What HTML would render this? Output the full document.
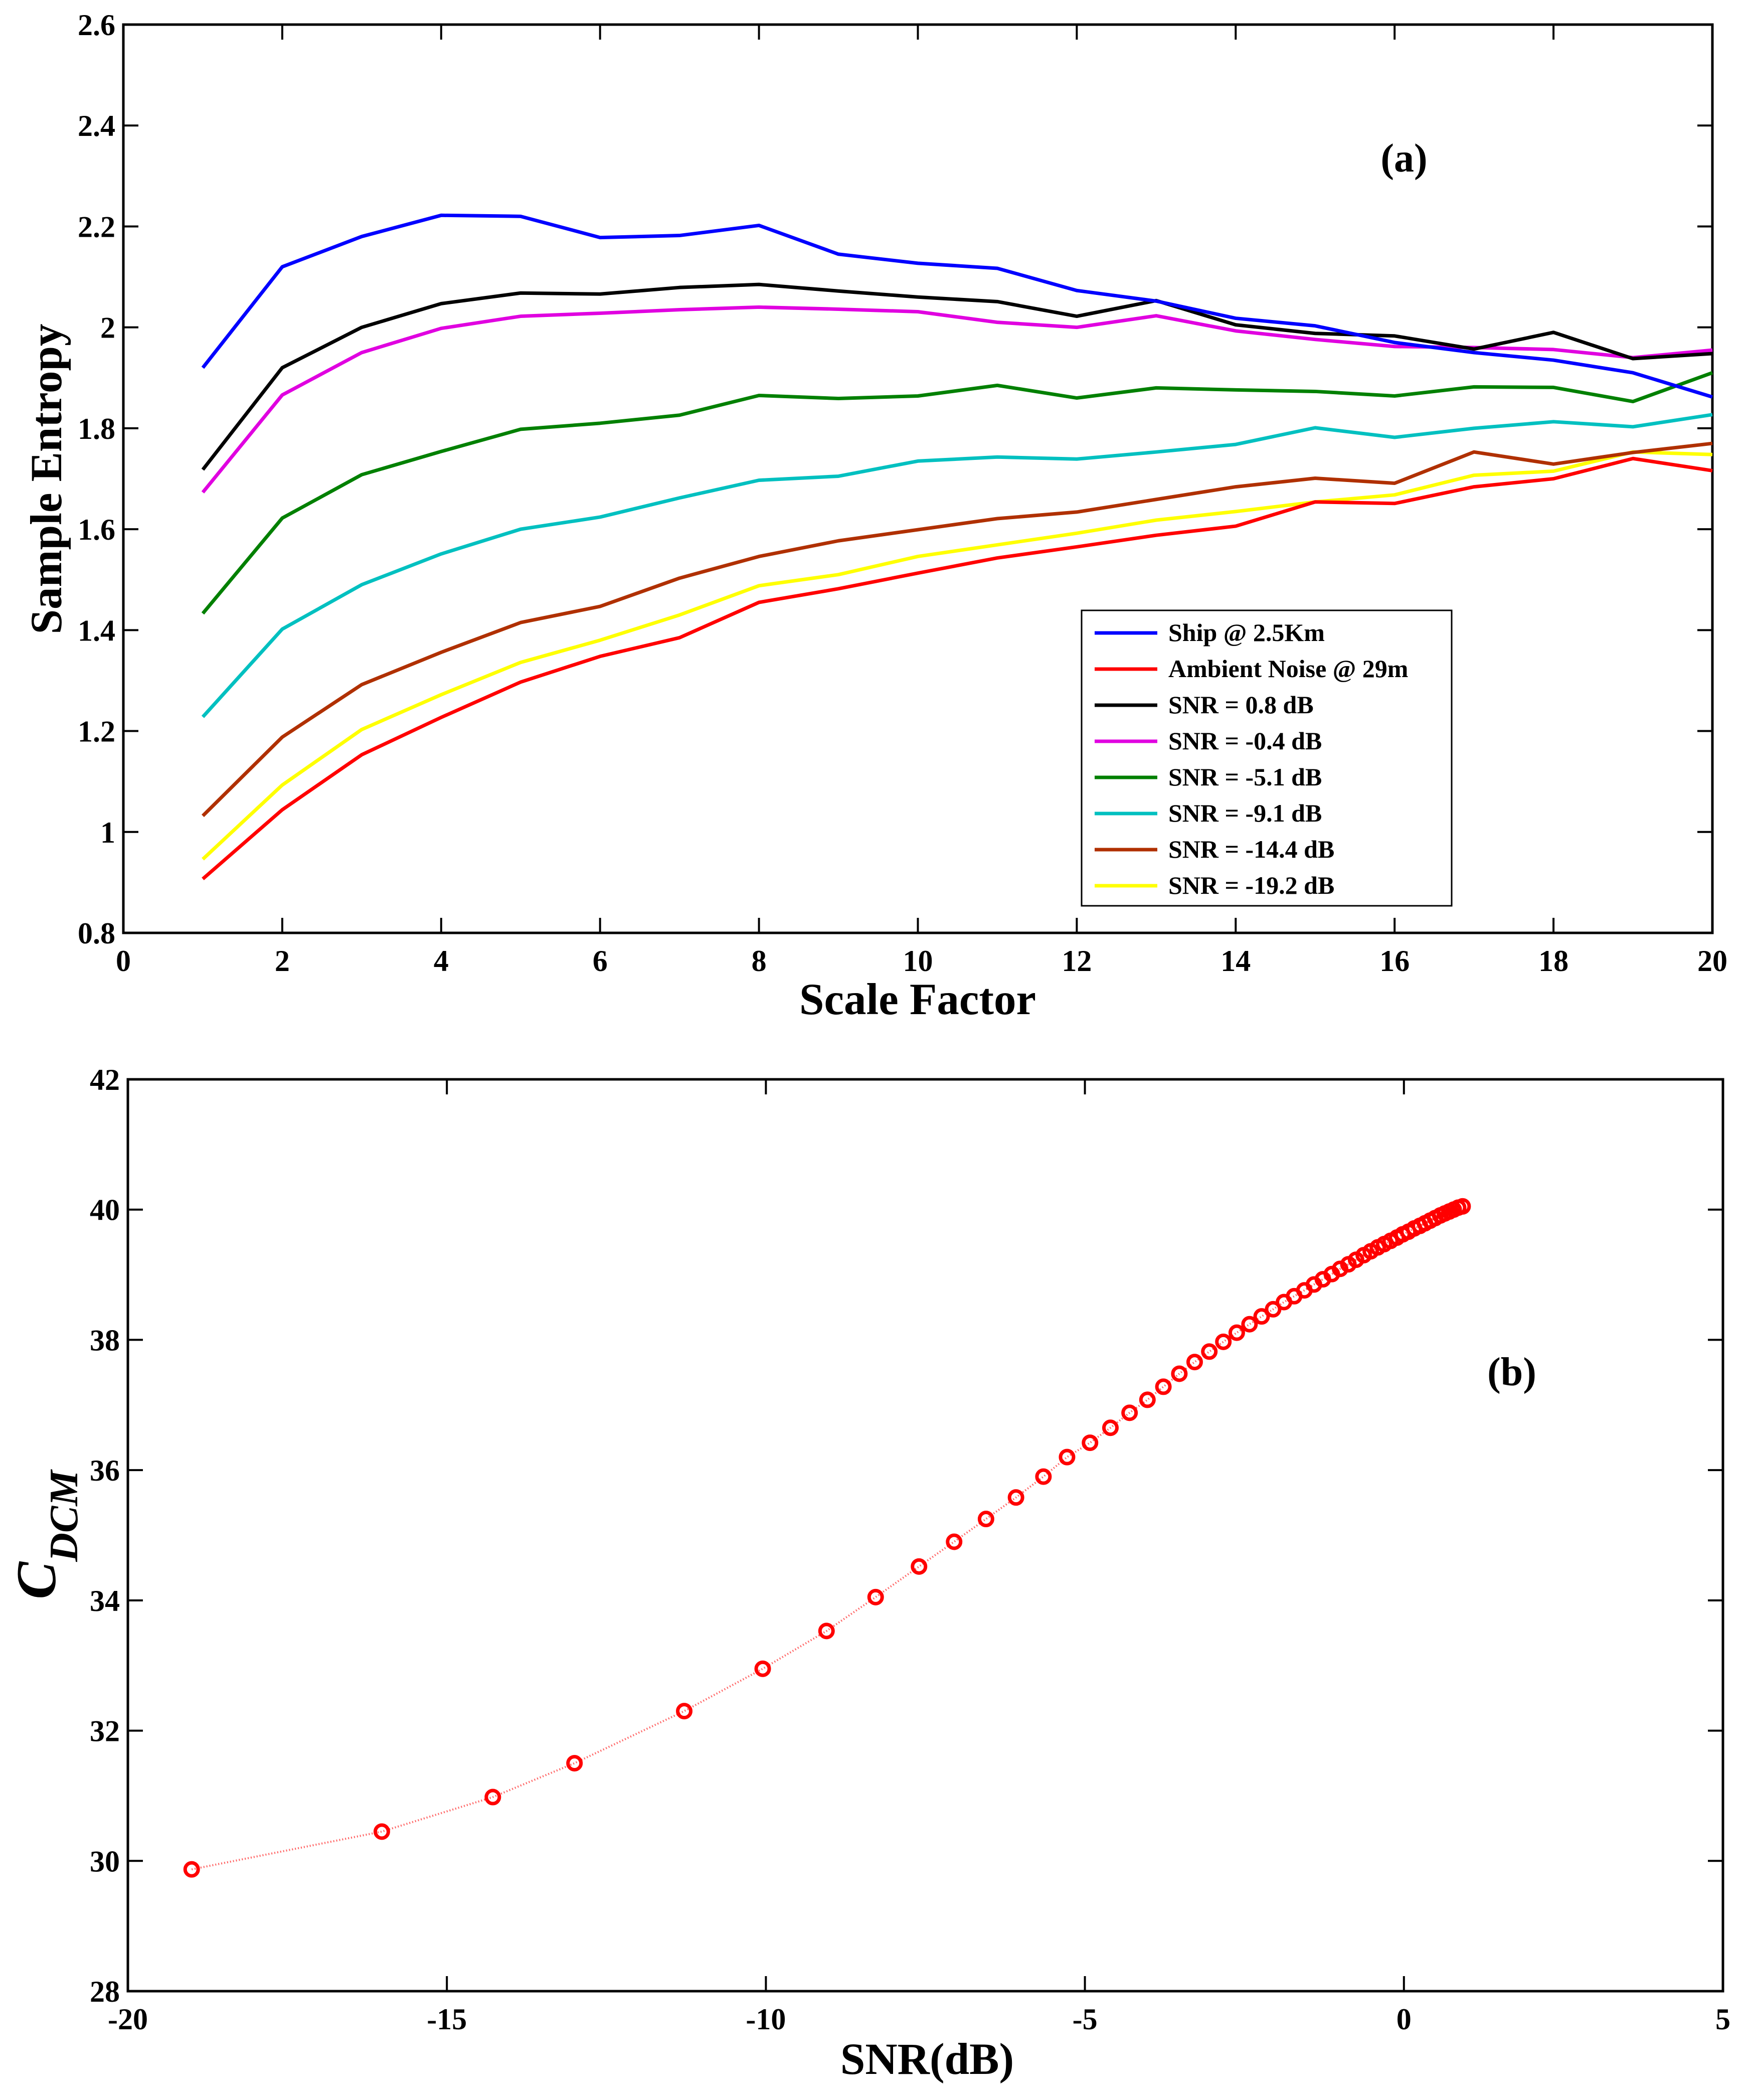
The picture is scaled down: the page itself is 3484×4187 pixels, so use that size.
<!DOCTYPE html>
<html><head><meta charset="utf-8"><style>
html,body{margin:0;padding:0;background:#fff}
svg text{font-family:"Liberation Serif",serif;font-weight:bold;fill:#000}
</style></head><body>
<svg id="chart" width="3484" height="4182" viewBox="0 0 3484 4182" xmlns="http://www.w3.org/2000/svg">
<g id="topPlot"></g>
<g id="botPlot"></g>
</svg>
<script>
const scaleFactors=[1,2,3,4,5,6,7,8,9,10,11,12,13,14,15,16,17,18,19,20];
const seriesNames=["Ship @ 2.5Km","Ambient Noise @ 29m","SNR = 0.8 dB","SNR = -0.4 dB","SNR = -5.1 dB","SNR = -9.1 dB","SNR = -14.4 dB","SNR = -19.2 dB"];
const seriesColors=["#0000ff","#ff0000","#000000","#e000e0","#008000","#00c0c0","#b03000","#ffff00"];
const shipVals=[1.92,2.12,2.18,2.222,2.22,2.178,2.182,2.202,2.145,2.127,2.117,2.073,2.052,2.018,2.003,1.970,1.950,1.935,1.910,1.862];
const noiseVals=[0.907,1.044,1.153,1.227,1.297,1.348,1.385,1.455,1.482,1.513,1.543,1.565,1.588,1.606,1.654,1.651,1.684,1.700,1.740,1.716];
const snr08Vals=[1.718,1.920,2.000,2.047,2.068,2.066,2.079,2.085,2.072,2.060,2.051,2.022,2.053,2.005,1.988,1.983,1.957,1.990,1.938,1.948];
const snrm04Vals=[1.673,1.866,1.950,1.998,2.022,2.028,2.035,2.040,2.036,2.031,2.010,2.000,2.023,1.993,1.976,1.962,1.960,1.956,1.940,1.955];
const snrm51Vals=[1.433,1.622,1.708,1.754,1.798,1.810,1.826,1.865,1.859,1.864,1.885,1.860,1.880,1.876,1.873,1.864,1.882,1.881,1.853,1.910];
const snrm91Vals=[1.228,1.402,1.490,1.551,1.600,1.624,1.662,1.697,1.705,1.735,1.743,1.739,1.753,1.768,1.801,1.782,1.800,1.813,1.803,1.827];
const snrm144Vals=[1.032,1.188,1.292,1.356,1.415,1.447,1.503,1.546,1.577,1.599,1.621,1.634,1.659,1.684,1.701,1.691,1.753,1.729,1.752,1.770];
const snrm192Vals=[0.946,1.093,1.203,1.272,1.336,1.380,1.430,1.488,1.510,1.546,1.569,1.592,1.618,1.635,1.654,1.668,1.707,1.715,1.753,1.748];
const topXTicks=[0,2,4,6,8,10,12,14,16,18,20];
const topYTicks=[0.8,1,1.2,1.4,1.6,1.8,2,2.2,2.4,2.6];
const topYLabels=["0.8","1","1.2","1.4","1.6","1.8","2","2.2","2.4","2.6"];
const snrX=[-19,-16.02,-14.28,-13,-11.28,-10.05,-9.05,-8.28,-7.6,-7.05,-6.55,-6.08,-5.65,-5.28,-4.92,-4.6,-4.3,-4.02,-3.77,-3.52,-3.28,-3.05,-2.83,-2.62,-2.42,-2.23,-2.05,-1.88,-1.72,-1.56,-1.41,-1.27,-1.13,-1.0,-0.87,-0.75,-0.63,-0.52,-0.41,-0.31,-0.21,-0.11,-0.02,0.07,0.16,0.25,0.33,0.41,0.49,0.57,0.64,0.71,0.78,0.85,0.92];
const cdcmY=[29.87,30.45,30.98,31.5,32.3,32.95,33.53,34.05,34.52,34.9,35.25,35.58,35.9,36.2,36.42,36.65,36.88,37.08,37.28,37.48,37.66,37.82,37.97,38.11,38.24,38.36,38.47,38.58,38.67,38.76,38.85,38.93,39.01,39.09,39.16,39.23,39.30,39.36,39.42,39.47,39.52,39.57,39.62,39.66,39.71,39.75,39.79,39.83,39.87,39.91,39.94,39.97,40.0,40.03,40.05];
const botXTicks=[-20,-15,-10,-5,0,5];
const botYTicks=[28,30,32,34,36,38,40,42];

const NS="http://www.w3.org/2000/svg";
function mk(parent,tag,attrs,text){const e=document.createElementNS(NS,tag);for(const k in attrs)e.setAttribute(k,attrs[k]);if(text!==undefined)e.textContent=text;parent.appendChild(e);return e;}

// ---- Top plot ----
const T={l:246,r:3415,t:49,b:1860,x0:0,x1:20,y0:0.8,y1:2.6};
const tx=v=>T.l+(v-T.x0)/(T.x1-T.x0)*(T.r-T.l);
const ty=v=>T.b-(v-T.y0)/(T.y1-T.y0)*(T.b-T.t);
const topG=document.getElementById('topPlot');
const allSeries=[shipVals,noiseVals,snr08Vals,snrm04Vals,snrm51Vals,snrm91Vals,snrm144Vals,snrm192Vals];
const drawOrder=[7,6,5,4,3,1,2,0];
const tb=mk(topG,'rect',{x:T.l,y:T.t,width:T.r-T.l,height:T.b-T.t,fill:'none',stroke:'#000','stroke-width':5});


topXTicks.forEach(v=>{
  const x=tx(v);
  const t1=mk(topG,'line',{x1:x,y1:T.b,x2:x,y2:T.b-30,stroke:'#000','stroke-width':4});
  
  
  mk(topG,'line',{x1:x,y1:T.t,x2:x,y2:T.t+30,stroke:'#000','stroke-width':4});
  const lb=mk(topG,'text',{x:x,y:T.b+76,'text-anchor':'middle','font-size':60},String(v));
  
  
});
topYTicks.forEach((v,i)=>{
  const y=ty(v);
  const t1=mk(topG,'line',{x1:T.l,y1:y,x2:T.l+30,y2:y,stroke:'#000','stroke-width':4});
  
  
  mk(topG,'line',{x1:T.r,y1:y,x2:T.r-30,y2:y,stroke:'#000','stroke-width':4});
  const lb=mk(topG,'text',{x:T.l-16,y:y+21,'text-anchor':'end','font-size':60},topYLabels[i]);
  
  
});
drawOrder.forEach(si=>{
  const pts=scaleFactors.map((s,j)=>tx(s)+','+ty(allSeries[si][j])).join(' ');
  const pl=mk(topG,'polyline',{points:pts,fill:'none',stroke:seriesColors[si],'stroke-width':7,'stroke-linejoin':'round'});
  
  
});
const xt=mk(topG,'text',{x:1830,y:2022,'text-anchor':'middle','font-size':89},'Scale Factor');


const yt=mk(topG,'text',{x:0,y:0,'text-anchor':'middle','font-size':89,transform:'translate(122,955) rotate(-90)'},'Sample Entropy');


const pa=mk(topG,'text',{x:2800,y:342,'text-anchor':'middle','font-size':80},'(a)');


const lg=mk(topG,'g',{});


mk(lg,'rect',{x:2157,y:1217,width:738,height:589,fill:'#fff',stroke:'#000','stroke-width':3});
seriesNames.forEach((n,i)=>{
  const y=1262+i*72;
  const ent=mk(lg,'g',{});
  
  
  mk(ent,'line',{x1:2183,y1:y,x2:2308,y2:y,stroke:seriesColors[i],'stroke-width':7});
  mk(ent,'text',{x:2330,y:y+16,'font-size':50},n);
});

// ---- Bottom plot ----
const B={l:255,r:3436,t:2152,b:3970,x0:-20,x1:5,y0:28,y1:42};
const bx=v=>B.l+(v-B.x0)/(B.x1-B.x0)*(B.r-B.l);
const by=v=>B.b-(v-B.y0)/(B.y1-B.y0)*(B.b-B.t);
const botG=document.getElementById('botPlot');
const bb=mk(botG,'rect',{x:B.l,y:B.t,width:B.r-B.l,height:B.b-B.t,fill:'none',stroke:'#000','stroke-width':5});


botXTicks.forEach(v=>{
  const x=bx(v);
  const t1=mk(botG,'line',{x1:x,y1:B.b,x2:x,y2:B.b-30,stroke:'#000','stroke-width':4});
  
  
  mk(botG,'line',{x1:x,y1:B.t,x2:x,y2:B.t+30,stroke:'#000','stroke-width':4});
  const lb=mk(botG,'text',{x:x,y:B.b+76,'text-anchor':'middle','font-size':60},String(v));
  
  
});
botYTicks.forEach(v=>{
  const y=by(v);
  const t1=mk(botG,'line',{x1:B.l,y1:y,x2:B.l+30,y2:y,stroke:'#000','stroke-width':4});
  
  
  mk(botG,'line',{x1:B.r,y1:y,x2:B.r-30,y2:y,stroke:'#000','stroke-width':4});
  const lb=mk(botG,'text',{x:B.l-16,y:y+21,'text-anchor':'end','font-size':60},String(v));
  
  
});
const cl=mk(botG,'polyline',{points:snrX.map((s,j)=>bx(s)+','+by(cdcmY[j])).join(' '),fill:'none',stroke:'#ff6060','stroke-width':4,'stroke-dasharray':'2 4'});


snrX.forEach((s,j)=>{
  const c=mk(botG,'circle',{cx:bx(s),cy:by(cdcmY[j]),r:13,fill:'none',stroke:'#ff0000','stroke-width':7});
  
  
});
const bxt=mk(botG,'text',{x:1849,y:4135,'text-anchor':'middle','font-size':89},'SNR(dB)');


const byt=mk(botG,'text',{x:0,y:0,'text-anchor':'middle','font-size':112,'font-style':'italic',transform:'translate(110,3060) rotate(-90)'});


mk(byt,'tspan',{},'C');
mk(byt,'tspan',{'font-size':80,dy:44},'DCM');
const pb=mk(botG,'text',{x:3015,y:2762,'text-anchor':'middle','font-size':80},'(b)');


</script>
</body></html>
